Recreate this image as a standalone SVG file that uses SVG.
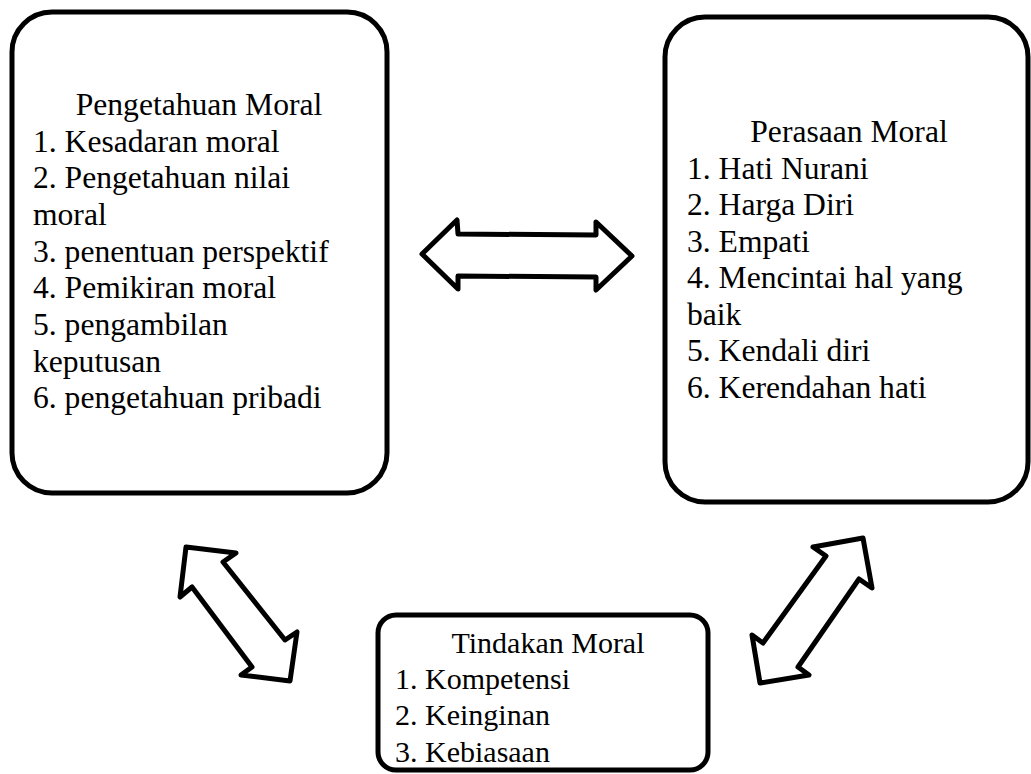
<svg xmlns="http://www.w3.org/2000/svg" width="1031" height="774" viewBox="0 0 1031 774">
<style>
.box{fill:#fff;stroke:#000;stroke-width:5}
.arr{fill:#fff;stroke:#000;stroke-width:5;stroke-linejoin:round}
text{font-family:'Liberation Serif',Tinos,'Times New Roman',Times,serif;font-size:31.6px;fill:#000}
.s{font-size:30px}
</style>
<rect width="1031" height="774" fill="#fff"/>
<g id="connectors">
<polygon class="arr" points="422,254 457,220 458,234 596,235 596,222 632,256 596,290 596,277 458,276 458,289"/>
<polygon class="arr" points="186,547 236,553 223,562 285,640 297,632 290,681 241,675 252,667 192,587 180,597"/>
<polygon class="arr" points="863,538 872,588 859,579 798,667 809,675 760,683 752,635 763,643 826,556 813,547"/>
</g>
<g id="pengetahuan" font-family="Liberation Serif, serif">
<rect class="box" x="12" y="12" width="375" height="481" rx="40"/>
<text x="199" y="115" text-anchor="middle">Pengetahuan Moral</text>
<text x="33" y="151.7">1. Kesadaran moral</text>
<text x="33" y="188.3">2. Pengetahuan nilai</text>
<text x="33" y="225">moral</text>
<text x="33" y="261.6">3. penentuan perspektif</text>
<text x="33" y="298.3">4. Pemikiran moral</text>
<text x="33" y="335">5. pengambilan</text>
<text x="33" y="371.6">keputusan</text>
<text x="33" y="408.3">6. pengetahuan pribadi</text>
</g>
<g id="perasaan" font-family="Liberation Serif, serif">
<rect class="box" x="665" y="17" width="363" height="485" rx="40"/>
<text x="849" y="142" text-anchor="middle">Perasaan Moral</text>
<text x="687" y="178.5">1. Hati Nurani</text>
<text x="687" y="215">2. Harga Diri</text>
<text x="687" y="251.5">3. Empati</text>
<text x="687" y="288">4. Mencintai hal yang</text>
<text x="687" y="324.5">baik</text>
<text x="687" y="361">5. Kendali diri</text>
<text x="687" y="397.5">6. Kerendahan hati</text>
</g>
<g id="tindakan" font-family="Liberation Serif, serif">
<rect class="box" x="378" y="615" width="330" height="155" rx="18"/>
<text class="s" x="548" y="652.5" text-anchor="middle">Tindakan Moral</text>
<text class="s" x="395" y="688.5">1. Kompetensi</text>
<text class="s" x="395" y="725">2. Keinginan</text>
<text class="s" x="395" y="761.5">3. Kebiasaan</text>
</g>
</svg>
